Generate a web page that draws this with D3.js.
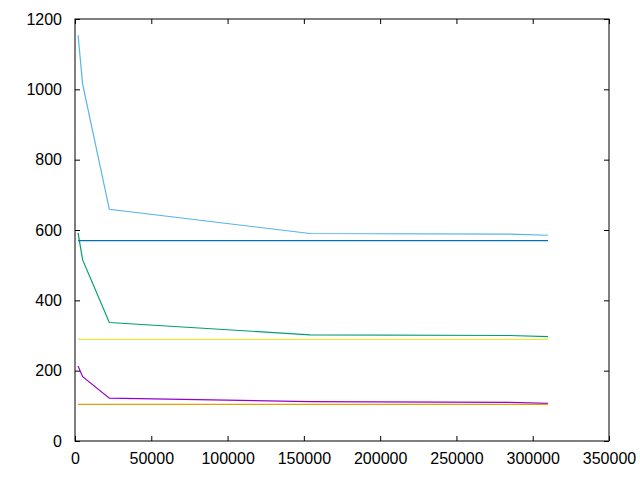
<!DOCTYPE html>
<html><head><meta charset="utf-8">
<script src="https://cdn.jsdelivr.net/npm/d3@7"></script>
<style>body{margin:0;background:#fff}svg{display:block}text{font-family:"Liberation Sans",Arial,sans-serif;font-size:16px;fill:#000}</style>
</head><body>
<script>
const xs = [2000, 5000, 22500, 154000, 285000, 310000];
const seriesPurple = [213, 183, 122, 112, 110, 107];
const seriesGreen = [592, 515, 337, 302, 300, 297];
const seriesLightBlue = [1154, 1015, 659, 590, 588, 585];
const seriesOrange = [104, 104, 104, 104, 104, 104];
const seriesYellow = [289, 289, 289, 289, 289, 289];
const seriesBlue = [570, 570, 570, 570, 570, 570];
const xTicks = [0, 50000, 100000, 150000, 200000, 250000, 300000, 350000];
const yTicks = [0, 200, 400, 600, 800, 1000, 1200];

const series = [
  {v: seriesPurple, c: "#9400d3"},
  {v: seriesGreen, c: "#009e73"},
  {v: seriesLightBlue, c: "#56b4e9"},
  {v: seriesOrange, c: "#e69f00"},
  {v: seriesYellow, c: "#f0e442"},
  {v: seriesBlue, c: "#0072b2"}
];

const W = 640, H = 480, L = 75, R = 609, T = 19, B = 441;
const svg = d3.select("body").append("svg").attr("width", W).attr("height", H);
const x = d3.scaleLinear().domain([0, 350000]).range([L, R]);
const y = d3.scaleLinear().domain([0, 1200]).range([B, T]);

const line = d3.line().x((d, i) => x(xs[i])).y(d => y(d));
svg.append("g").selectAll("path").data(series).join("path")
  .attr("d", s => line(s.v)).attr("fill", "none").attr("stroke", s => s.c)
  .attr("stroke-width", 1.2);

const tl = 5;
const gx = svg.append("g").attr("transform", `translate(0,${B})`)
  .call(d3.axisBottom(x).tickValues(xTicks).tickFormat(d3.format("d")).tickSize(-tl).tickPadding(12));
const gxt = svg.append("g").attr("transform", `translate(0,${T})`)
  .call(d3.axisTop(x).tickValues(xTicks).tickSize(-tl).tickFormat(""));
const gy = svg.append("g").attr("transform", `translate(${L},0)`)
  .call(d3.axisLeft(y).tickValues(yTicks).tickFormat(d3.format("d")).tickSize(-tl).tickPadding(13));
const gyr = svg.append("g").attr("transform", `translate(${R},0)`)
  .call(d3.axisRight(y).tickValues(yTicks).tickSize(-tl).tickFormat(""));
[gx, gxt, gy, gyr].forEach(g => {
  g.select(".domain").remove();
  g.selectAll("line").attr("stroke", "#000");
  g.selectAll("text").attr("font-size", 16).attr("font-family", "Liberation Sans, Arial, sans-serif").attr("fill", "#000");
});
svg.append("rect").attr("x", L).attr("y", T).attr("width", R - L).attr("height", B - T)
  .attr("fill", "none").attr("stroke", "#000").attr("stroke-width", 1);
</script>
</body></html>
